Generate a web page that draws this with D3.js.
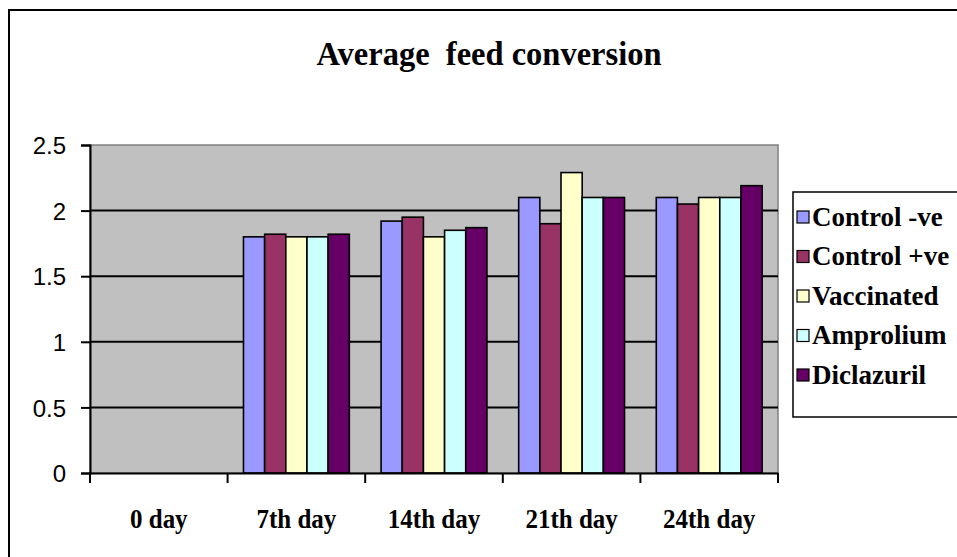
<!DOCTYPE html>
<html>
<head>
<meta charset="utf-8">
<script src="https://cdn.jsdelivr.net/npm/d3@7/dist/d3.min.js"></script>
<style>
  html, body { margin: 0; padding: 0; background: #fff; overflow: hidden; }
  svg { display: block; }
</style>
</head>
<body>
<svg id="chart" width="957" height="557"></svg>
<script>
const categories = ["0 day", "7th day", "14th day", "21th day", "24th day"];
const seriesNames = ["Control -ve", "Control +ve", "Vaccinated", "Amprolium", "Diclazuril"];
const controlNeg = [0, 1.80, 1.92, 2.10, 2.10];
const controlPos = [0, 1.82, 1.95, 1.90, 2.05];
const vaccinated = [0, 1.80, 1.80, 2.29, 2.10];
const amprolium  = [0, 1.80, 1.85, 2.10, 2.10];
const diclazuril = [0, 1.82, 1.87, 2.10, 2.19];
const yTicks = [0, 0.5, 1, 1.5, 2, 2.5];
const seriesColors = ["#9999FF", "#993366", "#FFFFCC", "#CCFFFF", "#660066"];
const titleText = "Average  feed conversion";

const seriesValues = [controlNeg, controlPos, vaccinated, amprolium, diclazuril];
const series = seriesNames.map((name, i) => ({ name, values: seriesValues[i], color: seriesColors[i] }));

const serif = "'Liberation Serif', 'Times New Roman', serif";
const svg = d3.select("#chart");
const plot = { left: 90, right: 778, top: 145, bottom: 473 };

// outer frame (extends beyond the visible window on right/bottom)
svg.append("rect")
  .attr("x", 9).attr("y", 10).attr("width", 1000).attr("height", 600)
  .attr("fill", "#fff").attr("stroke", "#000").attr("stroke-width", 2);

// title
svg.append("text")
  .attr("transform", "translate(489,65) scale(1,1.05)")
  .attr("text-anchor", "middle")
  .attr("font-family", serif)
  .attr("font-weight", "bold")
  .attr("font-size", 32.5)
  .attr("xml:space", "preserve")
  .style("white-space", "pre")
  .text(titleText);

const x0 = d3.scaleBand().domain(categories).range([plot.left, plot.right]).paddingInner(0).paddingOuter(0);
const groupW = x0.bandwidth();
const barW = groupW / 6.5;
const x1 = d3.scaleBand().domain(seriesNames)
  .range([barW * 0.75, groupW - barW * 0.75]).padding(0);
const y = d3.scaleLinear().domain([0, 2.5]).range([plot.bottom, plot.top]);

// plot background
svg.append("rect")
  .attr("x", plot.left).attr("y", plot.top)
  .attr("width", plot.right - plot.left).attr("height", plot.bottom - plot.top)
  .attr("fill", "#C0C0C0").attr("stroke", "#808080").attr("stroke-width", 1.5);

// gridlines
svg.append("g").selectAll("line")
  .data(yTicks.filter(t => t > 0 && t < 2.5))
  .join("line")
  .attr("x1", plot.left).attr("x2", plot.right)
  .attr("y1", d => y(d)).attr("y2", d => y(d))
  .attr("stroke", "#000").attr("stroke-width", 2);

// bars
const groups = svg.append("g").selectAll("g")
  .data(categories)
  .join("g")
  .attr("transform", d => `translate(${x0(d)},0)`);

groups.selectAll("rect")
  .data((c, ci) => series.map(s => ({ name: s.name, color: s.color, value: s.values[ci] })).filter(d => d.value > 0))
  .join("rect")
  .attr("x", d => x1(d.name))
  .attr("y", d => y(d.value))
  .attr("width", x1.bandwidth())
  .attr("height", d => y(0) - y(d.value))
  .attr("fill", d => d.color)
  .attr("stroke", "#000").attr("stroke-width", 1.6);

// y axis
const yAxis = d3.axisLeft(y).tickValues(yTicks).tickSize(9).tickFormat(d3.format("~g"));
const yg = svg.append("g").attr("transform", `translate(${plot.left},0)`).call(yAxis);
yg.select(".domain").attr("stroke", "#000").attr("stroke-width", 2);
yg.selectAll(".tick line").attr("stroke", "#000").attr("stroke-width", 2);
yg.selectAll(".tick text")
  .attr("font-family", "'Liberation Sans', Arial, sans-serif")
  .attr("font-size", 24)
  .attr("fill", "#000")
  .attr("x", -24)
  .attr("dy", "0.36em");

// x axis
const xAxis = d3.axisBottom(x0).tickSize(0).tickFormat("");
const xg = svg.append("g").attr("transform", `translate(0,${plot.bottom})`).call(xAxis);
xg.select(".domain").attr("stroke", "#000").attr("stroke-width", 2);
xg.selectAll(".tick").remove();
const boundaries = categories.map(c => x0(c)).concat([x0(categories[categories.length - 1]) + groupW]);
xg.selectAll("line.bt")
  .data(boundaries)
  .join("line").attr("class", "bt")
  .attr("x1", d => d).attr("x2", d => d)
  .attr("y1", 0).attr("y2", 10)
  .attr("stroke", "#000").attr("stroke-width", 2);
xg.selectAll("text.cl")
  .data(categories)
  .join("text").attr("class", "cl")
  .attr("transform", d => `translate(${x0(d) + groupW / 2},55) scale(1,1.1)`)
  .attr("text-anchor", "middle")
  .attr("font-family", serif)
  .attr("font-weight", "bold")
  .attr("font-size", 25)
  .attr("fill", "#000")
  .text(d => d);

// legend
const legend = svg.append("g");
legend.append("rect")
  .attr("x", 793).attr("y", 192).attr("width", 200).attr("height", 225)
  .attr("fill", "#fff").attr("stroke", "#000").attr("stroke-width", 1.5);
const li = legend.selectAll("g.li")
  .data(series)
  .join("g").attr("class", "li")
  .attr("transform", (d, i) => `translate(797,${217 + i * 39.5})`);
li.append("rect")
  .attr("x", 0).attr("y", -6).attr("width", 12).attr("height", 12)
  .attr("fill", d => d.color).attr("stroke", "#000").attr("stroke-width", 1.2);
li.append("text")
  .attr("x", 15).attr("y", 0).attr("dy", "0.33em")
  .attr("font-family", serif)
  .attr("font-weight", "bold")
  .attr("font-size", 27)
  .attr("fill", "#000")
  .text(d => d.name);
</script>
</body>
</html>
